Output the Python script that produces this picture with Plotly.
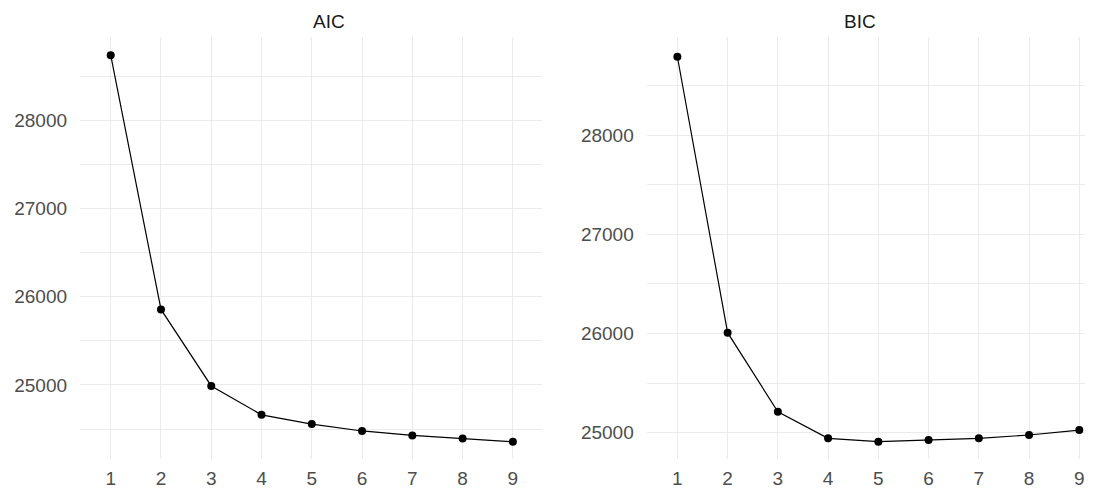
import plotly.graph_objects as go
from plotly.subplots import make_subplots

k = [1, 2, 3, 4, 5, 6, 7, 8, 9]
aic = [28741, 25857, 24989, 24661, 24556, 24478, 24427, 24393, 24356]
bic = [28789, 26008, 25211, 24943, 24910, 24926, 24943, 24977, 25027]

fig = make_subplots(rows=1, cols=2)

for i, vals in enumerate([aic, bic], start=1):
    fig.add_trace(
        go.Scatter(
            x=k, y=vals, mode="lines+markers",
            line=dict(color="black", width=1.2),
            marker=dict(color="black", size=8),
            showlegend=False,
        ),
        row=1, col=i,
    )

font_family = "Liberation Sans, Arial, sans-serif"
grid = "#EBEBEB"

axis_common = dict(
    showline=False, zeroline=False, ticks="", automargin=False,
    gridcolor=grid, gridwidth=1.1,
    tickfont=dict(family=font_family, size=19, color="#4D4D4D"),
)

fig.update_xaxes(tickvals=k, ticklabelstandoff=6, **axis_common)
fig.update_yaxes(
    tickvals=[25000, 26000, 27000, 28000],
    tickformat="d",
    minor=dict(tickvals=[24500, 25500, 26500, 27500, 28500],
               showgrid=True, gridcolor=grid, gridwidth=1.1),
    ticklabelstandoff=12,
    **axis_common,
)

title_font = dict(family=font_family, size=19, color="#1A1A1A")

# page has an 8px body margin, so the figure is 8px smaller than the window
fig.update_layout(
    width=1085, height=481,
    margin=dict(l=0, r=0, t=29, b=30),
    plot_bgcolor="white", paper_bgcolor="white",
    xaxis=dict(domain=[0.0664, 0.4922], range=[0.39, 9.58]),
    xaxis2=dict(domain=[0.5887, 1.0], range=[0.39, 9.273]),
    yaxis=dict(range=[24160, 28948]),
    yaxis2=dict(range=[24735, 28988]),
    annotations=[
        dict(text="AIC", x=0.2793, y=1.0, xref="paper", yref="paper",
             yanchor="middle", yshift=15.5, showarrow=False, font=title_font),
        dict(text="BIC", x=0.8018, y=1.0, xref="paper", yref="paper",
             yanchor="middle", yshift=15.5, showarrow=False, font=title_font),
    ],
)

fig.write_html("out.html")
